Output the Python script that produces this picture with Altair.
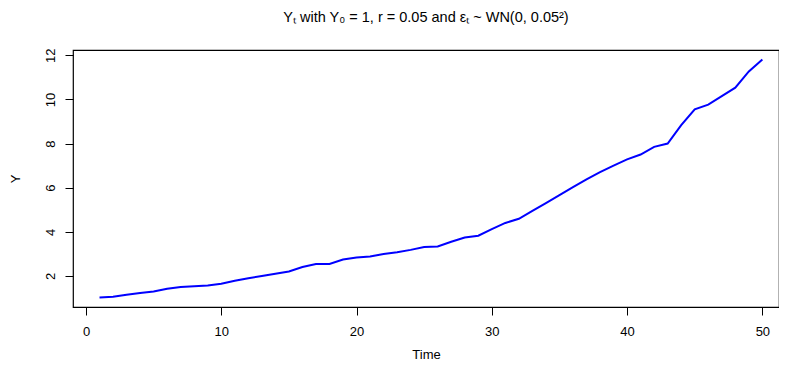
import altair as alt
import pandas as pd

time = list(range(1, 51))
y_values = [1.02, 1.06, 1.15, 1.22, 1.29, 1.42, 1.50, 1.53, 1.57, 1.64,
            1.78, 1.89, 2.00, 2.10, 2.20, 2.40, 2.54, 2.54, 2.74, 2.83,
            2.88, 2.99, 3.07, 3.18, 3.31, 3.33, 3.55, 3.74, 3.82, 4.12,
            4.40, 4.59, 4.95, 5.30, 5.66, 6.02, 6.38, 6.70, 7.00, 7.28,
            7.50, 7.85, 8.00, 8.83, 9.55, 9.76, 10.15, 10.53, 11.27, 11.81]
x_ticks = [0, 10, 20, 30, 40, 50]
y_ticks = [2, 4, 6, 8, 10, 12]
title_text = "Yₜ with Y₀ = 1, r = 0.05 and εₜ ~ WN(0, 0.05²)"

df = pd.DataFrame({"Time": time, "Y": y_values})

FONT = "Liberation Sans"

chart = alt.Chart(df).mark_line(color="#0000FF", strokeWidth=2).encode(
    x=alt.X("Time:Q",
            scale=alt.Scale(domain=[-0.96, 51.23], nice=False, zero=False),
            axis=alt.Axis(values=x_ticks, grid=False, domain=False, tickSize=8,
                          tickColor="black", labelPadding=10, labelFontSize=13,
                          labelFont=FONT, labelColor="black", title="Time",
                          titleFont=FONT, titleFontSize=13, titleFontWeight="normal",
                          titleColor="black", titlePadding=10)),
    y=alt.Y("Y:Q",
            scale=alt.Scale(domain=[0.59, 12.24], nice=False, zero=False),
            axis=alt.Axis(values=y_ticks, grid=False, domain=False, tickSize=8,
                          tickColor="black", labelAngle=-90, labelAlign="center",
                          labelBaseline="middle", labelPadding=15, labelFontSize=13,
                          labelFont=FONT, labelColor="black", title="Y",
                          titleFont=FONT, titleFontSize=13, titleFontWeight="normal",
                          titleColor="black", titlePadding=22)),
).properties(
    width=706,
    height=257,
    title=alt.TitleParams(title_text, font=FONT, fontSize=14.5, fontWeight="normal",
                          color="black", anchor="middle", offset=23),
    autosize=alt.AutoSizeParams(type="none"),
    padding={"left": 65, "top": 42, "right": 0, "bottom": 54},
).configure_view(stroke="black", strokeWidth=1.2)

chart.save("out.html", embed_options={"renderer": "svg", "actions": False})
